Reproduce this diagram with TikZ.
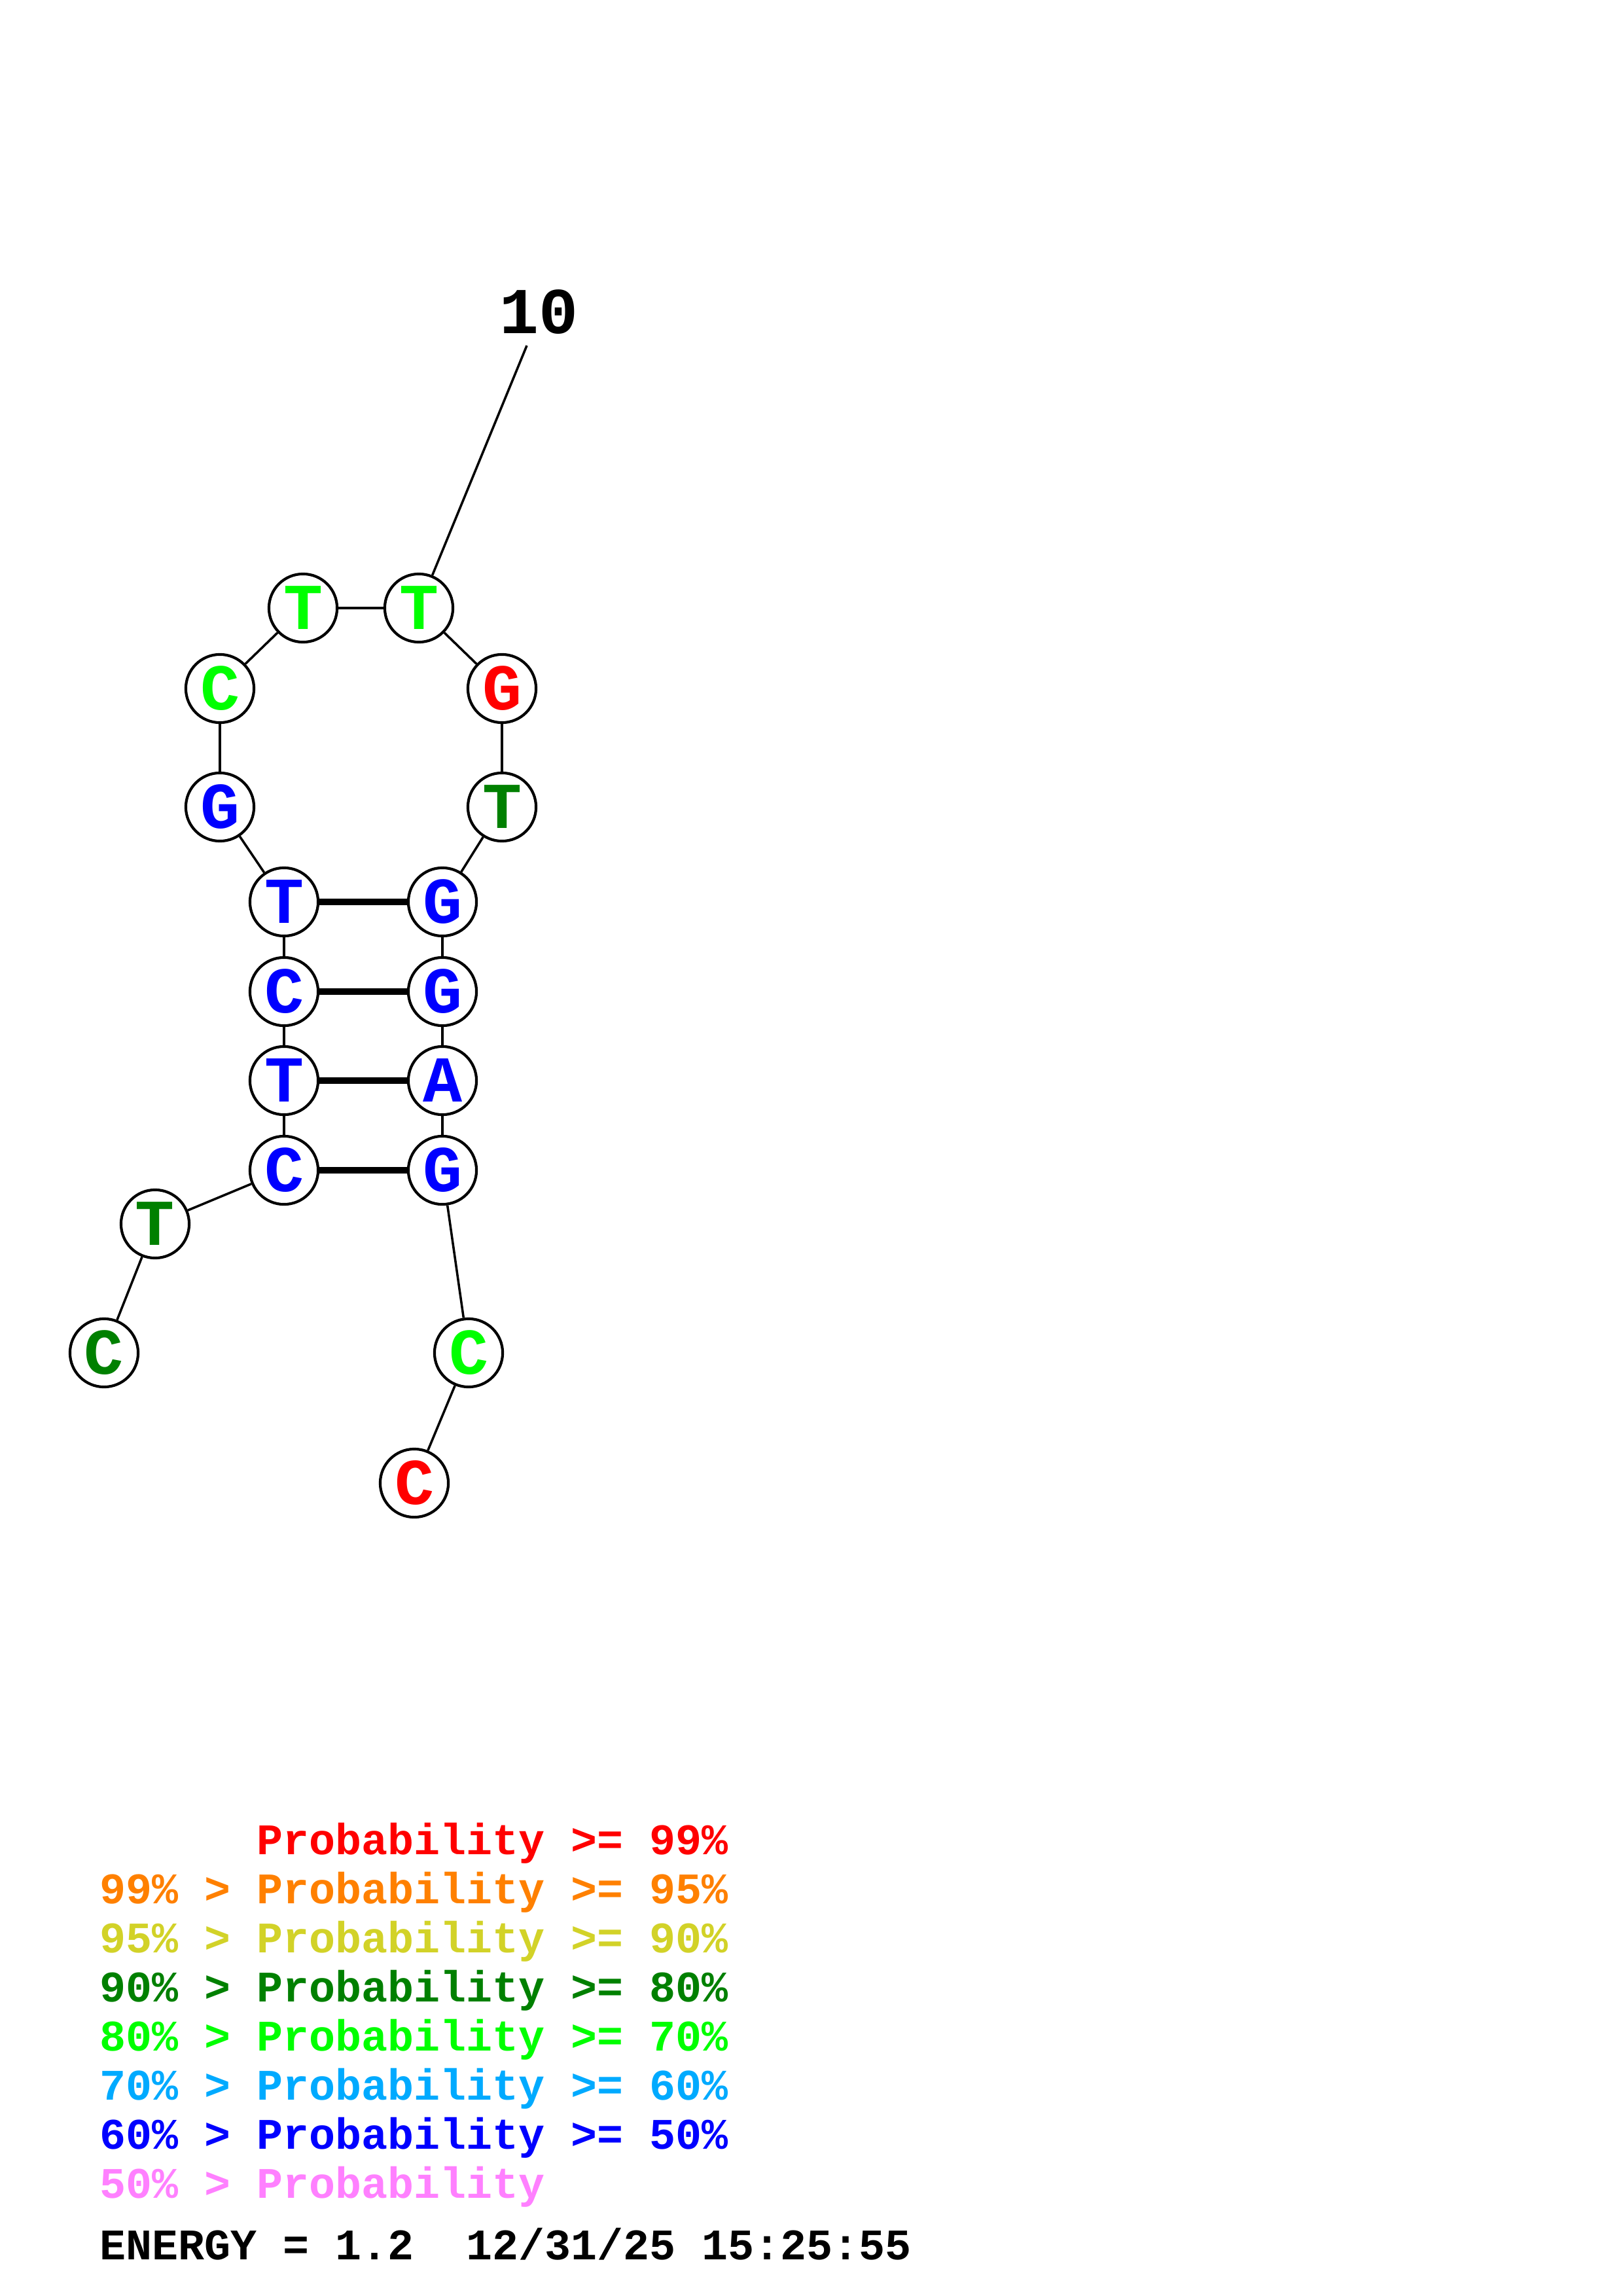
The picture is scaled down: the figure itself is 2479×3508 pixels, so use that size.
\documentclass[tikz,border=0pt]{standalone}
\usepackage{fontspec}
\setmainfont{Liberation Mono}
\definecolor{pred}{RGB}{255,0,0}
\definecolor{porange}{RGB}{255,128,0}
\definecolor{pyellow}{RGB}{210,210,40}
\definecolor{pdgreen}{RGB}{0,128,0}
\definecolor{pgreen}{RGB}{0,255,0}
\definecolor{psky}{RGB}{0,170,255}
\definecolor{pblue}{RGB}{0,0,255}
\definecolor{ppink}{RGB}{255,128,255}
\begin{document}
\begin{tikzpicture}[x=0.24pt,y=-0.24pt,
  base/.style={circle,draw=black,line width=1pt,fill=white,minimum size=25pt,inner sep=0pt,
    font=\fontsize{24}{24}\selectfont\bfseries},
  bb/.style={line width=0.85pt},
  pair/.style={line width=2.4pt},
  leg/.style={anchor=base west,inner sep=0pt,font=\fontsize{16}{16}\selectfont\bfseries}]
\useasboundingbox (0,0) rectangle (2479,3508);
\coordinate (e10) at (805,528);
\node[base,text=pdgreen] (n1) at (159,2067) {C};
\node[base,text=pdgreen] (n2) at (237,1870) {T};
\node[base,text=pblue] (n3) at (434,1788) {C};
\node[base,text=pblue] (n4) at (434,1651) {T};
\node[base,text=pblue] (n5) at (434,1515) {C};
\node[base,text=pblue] (n6) at (434,1378) {T};
\node[base,text=pblue] (n7) at (336,1233) {G};
\node[base,text=pgreen] (n8) at (336,1052) {C};
\node[base,text=pgreen] (n9) at (463,929) {T};
\node[base,text=pgreen] (n10) at (640,929) {T};
\node[base,text=pred] (n11) at (767,1052) {G};
\node[base,text=pdgreen] (n12) at (767,1233) {T};
\node[base,text=pblue] (n13) at (676,1378) {G};
\node[base,text=pblue] (n14) at (676,1515) {G};
\node[base,text=pblue] (n15) at (676,1651) {A};
\node[base,text=pblue] (n16) at (676,1788) {G};
\node[base,text=pgreen] (n17) at (716,2067) {C};
\node[base,text=pred] (n18) at (633,2266) {C};
\draw[bb] (n1)--(n2) (n2)--(n3) (n3)--(n4) (n4)--(n5) (n5)--(n6) (n6)--(n7) (n7)--(n8) (n8)--(n9)
  (n9)--(n10) (n10)--(n11) (n11)--(n12) (n12)--(n13) (n13)--(n14) (n14)--(n15) (n15)--(n16)
  (n16)--(n17) (n17)--(n18);
\draw[pair] (n3)--(n16) (n4)--(n15) (n5)--(n14) (n6)--(n13);
\draw[bb] (n10)--(e10);
\node[font=\fontsize{24}{24}\selectfont\bfseries,inner sep=0pt] (l10) at (823,477) {10};
% legend
\node[leg,text=pred] (g1) at (152,2833) {\phantom{99\% > }Probability >= 99\%};
\node[leg,text=porange] (g2) at (152,2908) {99\% > Probability >= 95\%};
\node[leg,text=pyellow] (g3) at (152,2983) {95\% > Probability >= 90\%};
\node[leg,text=pdgreen] (g4) at (152,3058) {90\% > Probability >= 80\%};
\node[leg,text=pgreen] (g5) at (152,3133) {80\% > Probability >= 70\%};
\node[leg,text=psky] (g6) at (152,3208) {70\% > Probability >= 60\%};
\node[leg,text=pblue] (g7) at (152,3283) {60\% > Probability >= 50\%};
\node[leg,text=ppink] (g8) at (152,3358) {50\% > Probability};
\node[leg,text=black] (en) at (152,3452) {ENERGY = 1.2\ \ 12/31/25 15:25:55};
\end{tikzpicture}
\end{document}
